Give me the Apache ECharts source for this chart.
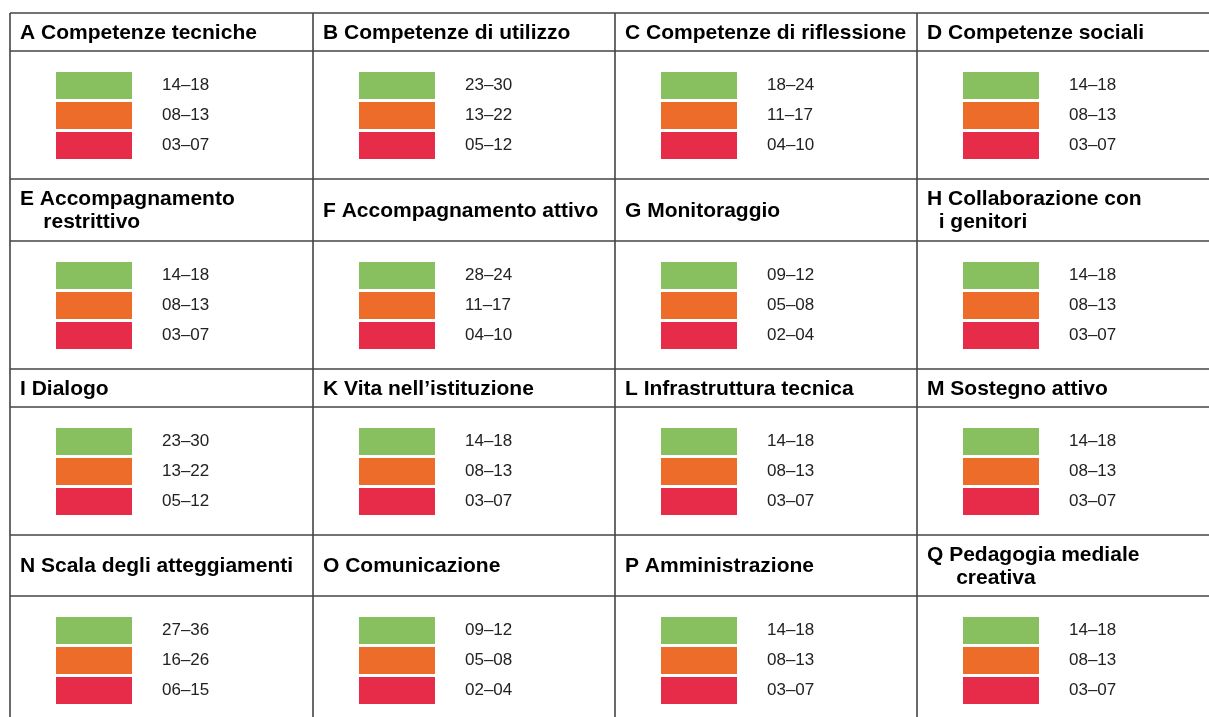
<!DOCTYPE html>
<html>
<head>
<meta charset="utf-8">
<script src="https://cdn.jsdelivr.net/npm/echarts@6/dist/echarts.min.js"></script>
<style>html,body{margin:0;padding:0;background:#fff;}#c{width:1209px;height:717px;}</style>
</head>
<body>
<div id="c"></div>
<script>
// ---- data ----
const titles = [
  'A Competenze tecniche', 'B Competenze di utilizzo', 'C Competenze di riflessione', 'D Competenze sociali',
  'E Accompagnamento\n    restrittivo', 'F Accompagnamento attivo', 'G Monitoraggio', 'H Collaborazione con\n  i genitori',
  'I Dialogo', 'K Vita nell’istituzione', 'L Infrastruttura tecnica', 'M Sostegno attivo',
  'N Scala degli atteggiamenti', 'O Comunicazione', 'P Amministrazione', 'Q Pedagogia mediale\n     creativa'
];
const levels = ['alto', 'medio', 'basso'];
const highRanges = ['14–18','23–30','18–24','14–18','14–18','28–24','09–12','14–18','23–30','14–18','14–18','14–18','27–36','09–12','14–18','14–18'];
const midRanges  = ['08–13','13–22','11–17','08–13','08–13','11–17','05–08','08–13','13–22','08–13','08–13','08–13','16–26','05–08','08–13','08–13'];
const lowRanges  = ['03–07','05–12','04–10','03–07','03–07','04–10','02–04','03–07','05–12','03–07','03–07','03–07','06–15','02–04','03–07','03–07'];
const barValues = [1, 1, 1];

// ---- layout ----
const colors = ['#88c060', '#ee6c2a', '#e62c48'];
const colX = [10, 313, 615, 917];
const rowTop = [13, 179, 369, 535];
const headLine = [51, 241, 407, 596];
const W = 1209, H = 717;
const lineColor = '#444';

const chart = echarts.init(document.getElementById('c'), null, {renderer: 'canvas'});
const grids = [], xAxes = [], yAxes = [], series = [], graphics = [];

// table lines
[...rowTop, ...headLine].forEach(y => {
  graphics.push({type: 'line', shape: {x1: colX[0], y1: y, x2: W, y2: y}, style: {stroke: lineColor, lineWidth: 1.6}, silent: true});
});
colX.forEach(x => {
  graphics.push({type: 'line', shape: {x1: x, y1: rowTop[0], x2: x, y2: H}, style: {stroke: lineColor, lineWidth: 1.6}, silent: true});
});

titles.forEach((t, i) => {
  const r = Math.floor(i / 4), c = i % 4;
  const x0 = colX[c];
  const hl = headLine[r];
  const ranges = [highRanges[i], midRanges[i], lowRanges[i]];
  graphics.push({
    type: 'text', silent: true,
    style: {
      text: t, x: x0 + 10, y: (rowTop[r] + hl) / 2 + 1,
      font: 'bold 21px "Liberation Sans Narrow", "Arial Narrow", "Liberation Sans", sans-serif',
      fill: '#000', verticalAlign: 'middle', lineHeight: 23
    }
  });
  grids.push({left: x0 + 46, top: hl + 19.5, width: 76, height: 90, containLabel: false});
  xAxes.push({type: 'value', gridIndex: i, min: 0, max: 1, show: false});
  yAxes.push({type: 'category', gridIndex: i, data: levels, inverse: true, show: false});
  series.push({
    type: 'bar', xAxisIndex: i, yAxisIndex: i, barWidth: 27, silent: true, animation: false,
    data: barValues.map((v, k) => ({value: v, itemStyle: {color: colors[k]}})),
    label: {
      show: true, position: 'right', distance: 30,
      formatter: p => ranges[p.dataIndex],
      fontFamily: '"Liberation Sans Narrow", "Arial Narrow", "Liberation Sans", sans-serif',
      fontSize: 17, color: '#222'
    }
  });
});

chart.setOption({
  animation: false,
  grid: grids, xAxis: xAxes, yAxis: yAxes, series: series,
  graphic: graphics
});
</script>
</body>
</html>
